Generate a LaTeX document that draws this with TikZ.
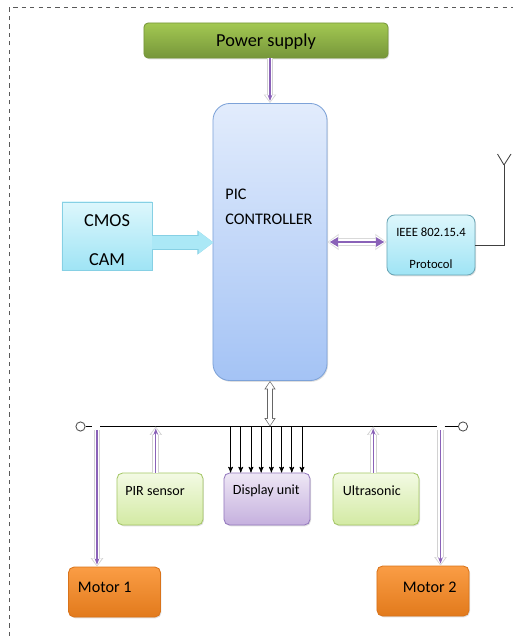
\documentclass[tikz,border=0pt]{standalone}
\usepackage{fontspec}
\setmainfont{Carlito}
\usetikzlibrary{%
  arrows,%
  arrows.meta,% Triangle/Stealth tips
  shadows,%
  calc%
}

\definecolor{psTop}{HTML}{A3C852}
\definecolor{psBot}{HTML}{76963A}
\definecolor{picTop}{HTML}{E2ECFC}
\definecolor{picBot}{HTML}{A4C3F5}
\definecolor{picLine}{HTML}{7DA2D8}
\definecolor{camTop}{HTML}{DDF7FC}
\definecolor{camBot}{HTML}{9FE4F5}
\definecolor{camLine}{HTML}{86D0E4}
\definecolor{senTop}{HTML}{F3FAE4}
\definecolor{senBot}{HTML}{D3EAA3}
\definecolor{senLine}{HTML}{A5C766}
\definecolor{dspTop}{HTML}{EEE7F5}
\definecolor{dspBot}{HTML}{C5B0DE}
\definecolor{dspLine}{HTML}{9479BE}
\definecolor{motTop}{HTML}{FA9D45}
\definecolor{motBot}{HTML}{E27A1C}
\definecolor{motLine}{HTML}{D9731A}
\definecolor{wire}{HTML}{8A62B8}

\begin{document}
\begin{tikzpicture}
[x=0.025cm, y=-0.025cm, line width=0.6pt, >=stealth',
entry/.style={rectangle, rounded corners=4pt, inner sep=0pt, shading=axis, drop shadow={opacity=0.25, shadow xshift=0.7pt, shadow yshift=-0.9pt}},
psbox/.style={entry, rounded corners=3pt, top color=psTop, bottom color=psBot, draw=psBot, minimum width=6.1cm, minimum height=0.875cm},
ctrlbox/.style={entry, rounded corners=12pt, top color=picTop, bottom color=picBot, draw=picLine, minimum width=2.85cm, minimum height=6.925cm},
cambox/.style={entry, rounded corners=0pt, top color=camTop, bottom color=camBot, draw=camLine, minimum width=2.25cm, minimum height=1.7cm},
netbox/.style={entry, rounded corners=5.5pt, top color=camTop, bottom color=camBot, draw=camLine!80!black, minimum width=2.2cm, minimum height=1.5cm},
senbox/.style={entry, top color=senTop, bottom color=senBot, draw=senLine, minimum width=2.15cm, minimum height=1.3cm},
dispbox/.style={entry, top color=dspTop, bottom color=dspBot, draw=dspLine, minimum width=2.15cm, minimum height=1.3cm},
motbox/.style={entry, top color=motTop, bottom color=motBot, draw=motLine, minimum width=2.3cm, minimum height=1.25cm},
lbl/.style={inner sep=0pt, text=black},
port/.style={circle, draw=black!70, fill=white, inner sep=0pt, minimum size=0.23cm, line width=0.6pt},
bus/.style={draw=black, line width=1.1pt},
aerial/.style={draw=black!75, line width=0.6pt},
pipe/.style={draw=wire, line width=0.9pt, shorten >=1.4pt, -{Stealth[length=4.5pt,width=3.4pt]},
  preaction={draw=gray!35, line width=4.8pt, shorten >=0pt, -{Triangle[length=6pt,width=8.5pt]}},
  preaction={draw=white, line width=3.4pt, shorten >=0.8pt, -{Triangle[length=5pt,width=6.5pt]}}},
hollow/.style={draw=white, line width=2.4pt, shorten <=0.8pt, shorten >=0.8pt,
  {Triangle[length=4.6pt,width=5.6pt]}-{Triangle[length=4.6pt,width=5.6pt]},
  preaction={draw=black!60, line width=3.8pt, shorten <=0pt, shorten >=0pt,
    {Triangle[length=6pt,width=7.6pt]}-{Triangle[length=6pt,width=7.6pt]}}},
duplex/.style={draw=wire, line width=2pt, shorten <=1.6pt, shorten >=1.6pt,
  {Triangle[length=6pt,width=6.5pt]}-{Triangle[length=6pt,width=6.5pt]},
  preaction={draw=gray!30, line width=6pt, shorten <=0pt, shorten >=0pt,
    {Triangle[length=8pt,width=11pt]}-{Triangle[length=8pt,width=11pt]}},
  preaction={draw=white, line width=4.6pt, shorten <=0.8pt, shorten >=0.8pt,
    {Triangle[length=7pt,width=9pt]}-{Triangle[length=7pt,width=9pt]}}},
feed/.style={draw=camBot!80!camTop, line width=9pt, -{Triangle[length=10.5pt,width=15pt]},
  preaction={draw=camLine, line width=10pt, -{Triangle[length=11.5pt,width=16.6pt]}}}]

\useasboundingbox (0,0) rectangle (513,636);
\draw[dashed, black!65, line width=0.5pt] (9,636) -- (9,7.5) -- (513,7.5);

\node[psbox] (ps) at (266,40.5) {};
\node[ctrlbox] (pic) at (270,242) {};
\node[cambox] (cam) at (107,236) {};
\node[netbox] (ieee) at (431,245) {};

\node[senbox] (pir) at (160,499) {};
\node[dispbox] (disp) at (267,499) {};
\node[senbox] (ultra) at (376,499) {};

\node[motbox] (m1) at (114.5,592) {};
\node[motbox] (m2) at (423,591) {};

\node[lbl, font=\fontsize{13}{15}\selectfont] (pstext) at (266,42) {Power supply};
\node[lbl, anchor=west, align=left, font=\fontsize{11.5}{18}\selectfont] (pictext) at (225,207) {PIC\\CONTROLLER};
\node[lbl, align=center, font=\fontsize{13}{28}\selectfont] (camtext) at (107,240) {CMOS\\CAM};
\node[lbl, align=center, font=\fontsize{9}{23}\selectfont] (ieeetext) at (431,248) {IEEE 802.15.4\\Protocol};
\node[lbl, anchor=west, font=\fontsize{10}{12}\selectfont] (pirtext) at (125,491) {PIR sensor};
\node[lbl, anchor=west, font=\fontsize{10}{12}\selectfont] (disptext) at (232.5,491) {Display unit};
\node[lbl, anchor=west, font=\fontsize{10}{12}\selectfont] (ultratext) at (342.5,491) {Ultrasonic};
\node[lbl, anchor=west, font=\fontsize{11.5}{14}\selectfont] (m1text) at (77.5,587) {Motor 1};
\node[lbl, anchor=west, font=\fontsize{11.5}{14}\selectfont] (m2text) at (402.5,587) {Motor 2};

\node[port] (pl) at (80.5,426.5) {};
\node[port] (pr) at (463,426.5) {};
\coordinate (b1) at (92,426.5);
\coordinate (b2) at (100,426.5);
\coordinate (b3) at (436.5,426.5);
\coordinate (b4) at (444.5,426.5);
\draw[bus] (pl) -- (b1);
\draw[bus] (b2) -- (b3);
\draw[bus] (b4) -- (pr);

\coordinate (t1) at (97,430);
\coordinate (t2) at (440.5,430);
\coordinate (ant) at (504,165);

\draw[pipe] (ps.south -| pic.north) -- (pic.north);
\draw[feed] ($(cam.east)+(0,6.5)$) -- ($(cam.east)+(61,6.5)$);
\draw[duplex] (pic.east) -- (pic.east -| ieee.west);
\draw[aerial] (ieee.east) -| (ant);
\draw[aerial] (ant) -- (497.5,154);
\draw[aerial] (ant) -- (511,154);

\draw[hollow] (pic.south) -- (pic.south |- b2);
\draw[pipe] ([xshift=-3pt]pir.north) -- ([xshift=-3pt]pir.north |- b2);
\draw[pipe] ([xshift=-2pt]ultra.north) -- ([xshift=-2pt]ultra.north |- b2);
\draw[pipe] (t1) -- (t1 |- m1.north);
\draw[pipe] (t2) -- (t2 |- m2.north);

\foreach \i in {0,...,7}
  \draw[->, line width=0.55pt] ($(disp.north west)+(7+10.2*\i,-46.5)$) -- ($(disp.north west)+(7+10.2*\i,0)$);
\end{tikzpicture}
\end{document}
